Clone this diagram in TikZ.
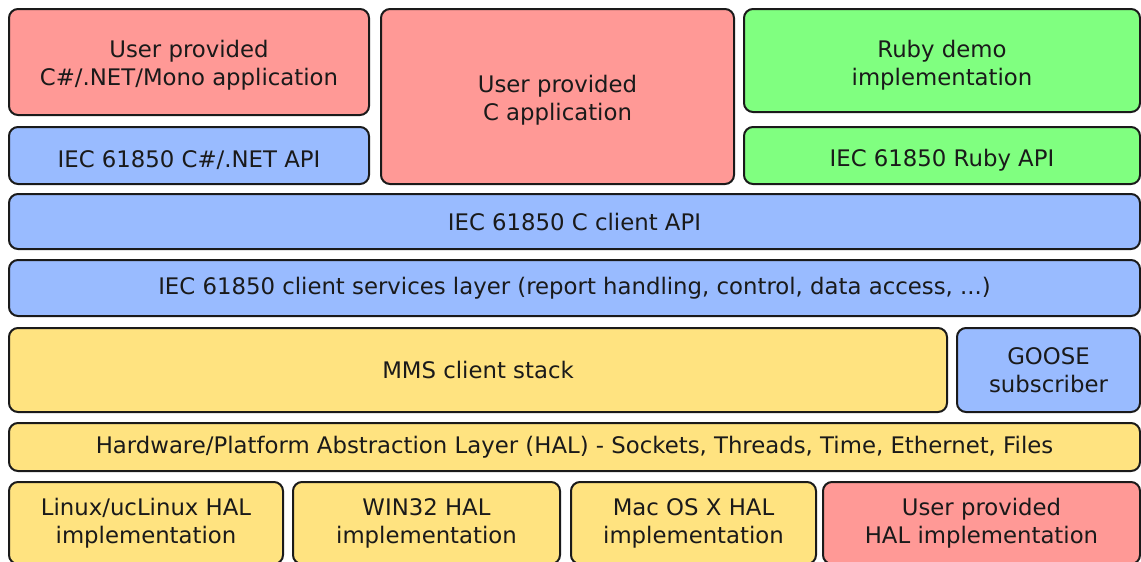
\documentclass[tikz,border=0pt]{standalone}
\usepackage{fontspec}
\setmainfont{DejaVu Sans}
\definecolor{cred}{RGB}{255,153,150}
\definecolor{cblue}{RGB}{153,187,255}
\definecolor{cgreen}{RGB}{128,255,128}
\definecolor{cyellow}{RGB}{255,227,128}
\definecolor{cline}{RGB}{26,26,26}
\tikzset{
  box/.style={draw=cline, line width=2pt, rounded corners=9pt, align=center,
    text=cline, inner sep=0pt, font=\fontsize{22.8}{28}\selectfont},
  lbl/.style={align=center, text=cline, inner sep=0pt, font=\fontsize{22.8}{27.6}\selectfont},
}
\begin{document}
\begin{tikzpicture}[x=1pt,y=-1pt]
\useasboundingbox (0,0) rectangle (1141,562);
\clip (0,0) rectangle (1141,562);
\node[box, fill=cred, minimum width=360pt, minimum height=106pt] (csapp) at (189,62) {};
\node[lbl] (csappt) at ([yshift=-3pt]csapp.center) {User provided\\C\#/.NET/Mono application};
\node[box, fill=cblue, minimum width=360pt, minimum height=57pt] (csapi) at (189,155.5) {};
\node[lbl] (csapit) at ([yshift=-4.5pt]csapi.center) {IEC 61850 C\#/.NET API};
\node[box, fill=cred, minimum width=353pt, minimum height=175pt] (capp) at (557.5,96.5) {};
\node[lbl] (cappt) at ([yshift=-3.5pt]capp.center) {User provided\\C application};
\node[box, fill=cgreen, minimum width=396pt, minimum height=103pt] (ruby) at (942,60.5) {};
\node[lbl] (rubyt) at ([yshift=-4.5pt]ruby.center) {Ruby demo\\implementation};
\node[box, fill=cgreen, minimum width=396pt, minimum height=57pt] (rubyapi) at (942,155.5) {};
\node[lbl] (rubyapit) at ([yshift=-5pt]rubyapi.center) {IEC 61850 Ruby API};
\node[box, fill=cblue, minimum width=1131pt, minimum height=55pt] (capi) at (574.5,221.5) {IEC 61850 C client API};
\node[box, fill=cblue, minimum width=1131pt, minimum height=56pt] (serv) at (574.5,288) {IEC 61850 client services layer (report handling, control, data access, ...)};
\node[box, fill=cyellow, minimum width=938pt, minimum height=84pt] (mms) at (478,370) {MMS client stack};
\node[box, fill=cblue, minimum width=183pt, minimum height=84pt] (goose) at (1048.5,370) {GOOSE\\subscriber};
\node[box, fill=cyellow, minimum width=1131pt, minimum height=48pt] (hal) at (574.5,447) {Hardware/Platform Abstraction Layer (HAL) - Sockets, Threads, Time, Ethernet, Files};
\node[box, fill=cyellow, minimum width=274pt, minimum height=82pt] (linux) at (146,523) {Linux/ucLinux HAL\\implementation};
\node[box, fill=cyellow, minimum width=267pt, minimum height=82pt] (win) at (426.5,523) {WIN32 HAL\\implementation};
\node[box, fill=cyellow, minimum width=245pt, minimum height=82pt] (mac) at (693.5,523) {Mac OS X HAL\\implementation};
\node[box, fill=cred, minimum width=317pt, minimum height=82pt] (userhal) at (981.5,523) {User provided\\HAL implementation};
\end{tikzpicture}
\end{document}
